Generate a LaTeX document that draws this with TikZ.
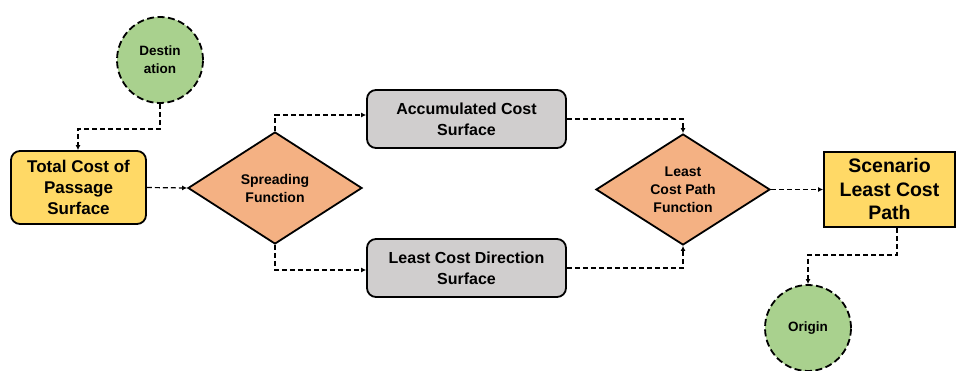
\documentclass[tikz,border=0pt]{standalone}
\usepackage{fontspec}
\setmainfont{Liberation Sans}
\usetikzlibrary{shapes.geometric,arrows.meta}
\definecolor{cgreen}{HTML}{A9D18E}
\definecolor{cyellow}{HTML}{FFD966}
\definecolor{corange}{HTML}{F4B183}
\definecolor{cgray}{HTML}{D0CECE}
\tikzset{
  circnode/.style={circle, draw=black, line width=1.8pt, dash pattern=on 7pt off 3.5pt, fill=cgreen, minimum size=86pt, inner sep=0pt, align=center, font=\bfseries\fontsize{13.5}{18}\selectfont},
  roundbox/.style={rectangle, rounded corners=9pt, draw=black, line width=1.8pt, align=center, inner sep=0pt},
  diam/.style={diamond, draw=black, line width=1.8pt, fill=corange, aspect=1.55, inner sep=0pt, align=center, font=\bfseries\fontsize{14}{18}\selectfont},
  conn/.style={draw=black, line width=1.2pt, dash pattern=on 5pt off 3pt, -{Latex[length=5pt,width=5pt]}}
}
\begin{document}
\begin{tikzpicture}[x=1pt,y=-1pt]
\useasboundingbox (0,0) rectangle (957,371);
\node[circnode] (dest) at (160,60) {Destin\\ation};
\node[roundbox, fill=cyellow, minimum width=135pt, minimum height=73pt, font=\bfseries\fontsize{17}{21}\selectfont] (tcp) at (78.5,187.5) {Total Cost of\\Passage\\Surface};
\node[diam, minimum width=174pt, minimum height=112pt] (spread) at (275,188) {Spreading\\Function};
\node[roundbox, fill=cgray, minimum width=199pt, minimum height=58pt, font=\bfseries\fontsize{16}{21}\selectfont] (acc) at (466.5,119) {Accumulated Cost\\Surface};
\node[roundbox, fill=cgray, minimum width=199pt, minimum height=58pt, font=\bfseries\fontsize{16}{21}\selectfont] (lcd) at (466.5,268) {Least Cost Direction\\Surface};
\node[diam, minimum width=174pt, minimum height=111pt] (lcp) at (683,189.5) {Least\\Cost Path\\Function};
\node[rectangle, draw=black, line width=1.8pt, fill=cyellow, minimum width=131pt, minimum height=75pt, inner sep=0pt, align=center, font=\bfseries\fontsize{19.5}{23.5}\selectfont] (scen) at (889.5,189.5) {Scenario\\Least Cost\\Path};
\node[circnode] (orig) at (808,328) {Origin};
\draw[conn] (dest.south) -- (160,129) -- (78,129) -- (tcp.north -| 78,0);
\draw[conn] (tcp.east) -- (spread.west);
\draw[conn] (spread.north) -- (275,115) -- (acc.west |- 0,115);
\draw[conn] (spread.south) -- (275,270) -- (lcd.west |- 0,270);
\draw[conn] (acc.east) -- (683,119) -- (lcp.north);
\draw[conn] (lcd.east) -- (683,268) -- (lcp.south);
\draw[conn] (lcp.east) -- (scen.west);
\draw[conn] (scen.south -| 897,0) -- (897,255) -- (808,255) -- (orig.north);
\end{tikzpicture}
\end{document}
